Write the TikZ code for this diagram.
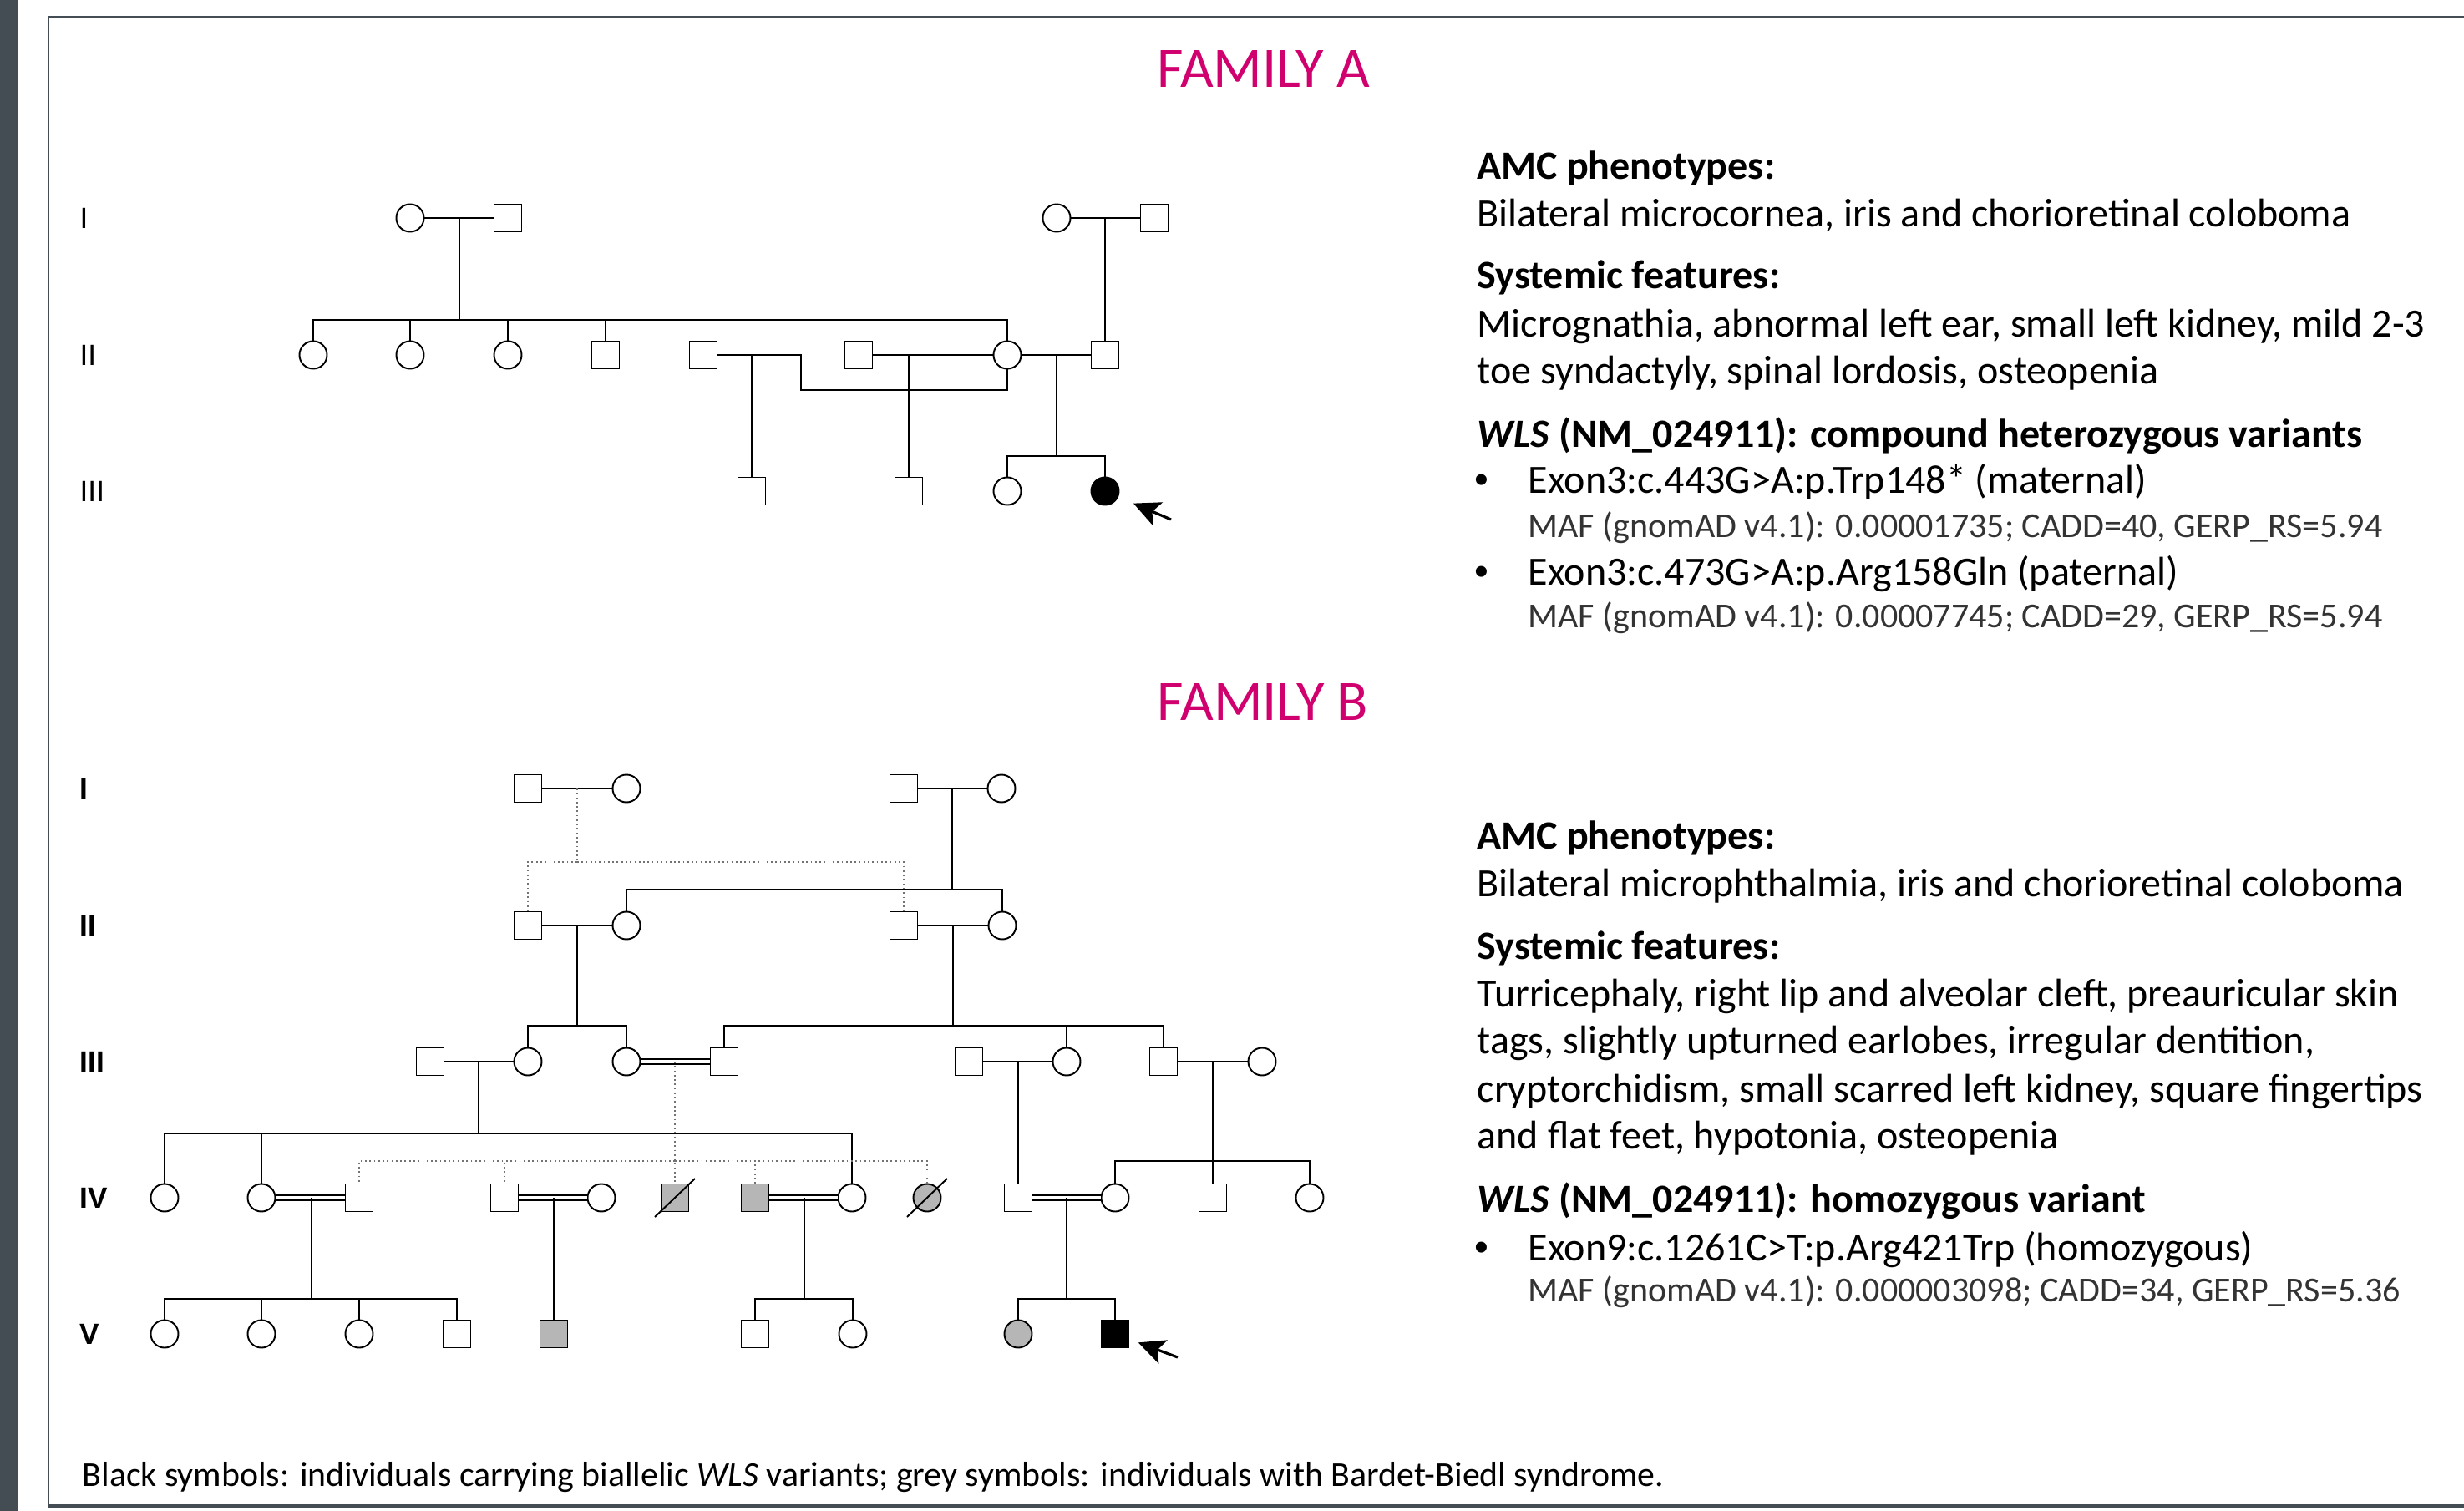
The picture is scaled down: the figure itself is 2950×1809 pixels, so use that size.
\documentclass[tikz,border=0pt]{standalone}
\usepackage{fontspec}
\setmainfont{Carlito}
\newfontfamily\genfont{Liberation Sans}
\usetikzlibrary{arrows.meta}
\definecolor{famtitlecol}{RGB}{208,0,111}
\definecolor{bbsgrey}{RGB}{182,182,182}
\definecolor{framegrey}{RGB}{68,76,84}
\definecolor{dotgrey}{RGB}{115,115,115}
\tikzset{
    %Define standard arrow tip
    >={Stealth[length=9pt,width=8.5pt,inset=2pt]},
    %Define styles for the individuals
    male/.style={
           rectangle,
           draw=black, line width=0.55pt,
           minimum size=0.33cm,
           inner sep=0pt},
    female/.style={
           circle,
           draw=black, line width=0.55pt,
           minimum size=0.33cm,
           inner sep=0pt},
    bbs/.style={fill=bbsgrey},
    wls/.style={fill=black},
    % Define line styles
    rel/.style={line width=0.55pt},
    consang/.style={double, double distance=1.3pt, line width=0.45pt},
    unsure/.style={dotgrey, densely dotted, line width=0.5pt},
    proband/.style={-{Stealth[length=9pt,width=8.5pt,inset=2pt]}, line width=0.9pt},
    % Define text styles
    gen/.style={anchor=west, inner sep=0pt, font=\genfont\fontsize{10}{12}\selectfont},
    genb/.style={anchor=west, inner sep=0pt, font=\genfont\bfseries\fontsize{10}{12}\selectfont},
    famtitle/.style={anchor=base, inner sep=0pt, text=famtitlecol, font=\fontsize{19.5}{23}\selectfont},
    txt/.style={anchor=base west, inner sep=0pt, font=\fontsize{13.66}{16}\selectfont},
    dot/.style={anchor=base west, inner sep=0pt, font=\genfont\fontsize{13.66}{16}\selectfont},
    maf/.style={anchor=base west, inner sep=0pt, text=black!80, font=\fontsize{11.95}{14}\selectfont},
    legend/.style={anchor=base west, inner sep=0pt, font=\fontsize{11.9}{14}\selectfont}
}

\begin{document}
\begin{tikzpicture}[x=0.01cm, y=-0.01cm]
\useasboundingbox (0,0) rectangle (2950,1809);
% page frame
\fill[framegrey] (0,0) rectangle (21,1809);
\draw[framegrey, line width=0.85pt] (2950,20) -- (58,20) -- (58,1803);
\draw[framegrey, line width=1.1pt] (58,1803) -- (2950,1803);

% ---------------- Family A ----------------
\node[famtitle] (titleA) at (1513,104) {FAMILY A};
\node[gen] (gA1) at (95,261) {I};
\node[gen] (gA2) at (95,425) {II};
\node[gen] (gA3) at (95,588) {III};

\node[female] (aI1) at (491,261) {};
\node[male]   (aI2) at (608,261) {};
\node[female] (aI3) at (1265,261) {};
\node[male]   (aI4) at (1382,261) {};

\node[female] (aII1) at (375,425) {};
\node[female] (aII2) at (491,425) {};
\node[female] (aII3) at (608,425) {};
\node[male]   (aII4) at (725,425) {};
\node[male]   (aII5) at (842,425) {};
\node[male]   (aII6) at (1028,425) {};
\node[female] (aII7) at (1206,425) {};
\node[male]   (aII8) at (1323,425) {};

\node[male]        (aIII1) at (900,588) {};
\node[male]        (aIII2) at (1088,588) {};
\node[female]      (aIII3) at (1206,588) {};
\node[female, wls] (aIII4) at (1323,588) {};

\coordinate (dA1) at (550,261);
\coordinate (sA1) at (550,383);
\coordinate (dA2) at (1323,261);
\coordinate (mA1) at (959,425);
\coordinate (kA1) at (959,467);
\coordinate (dA3) at (900,425);
\coordinate (dA4) at (1088,425);
\coordinate (dA5) at (1265,425);
\coordinate (sA5) at (1265,546);
\coordinate (pA) at (1402,622);

\draw[rel] (aI1) -- (aI2);
\draw[rel] (dA1) -- (sA1);
\foreach \c in {aII1,aII2,aII3,aII4,aII7}
    \draw[rel] (sA1) -| (\c);
\draw[rel] (aI3) -- (aI4);
\draw[rel] (dA2) -- (aII8);
\draw[rel] (aII5) -- (mA1) -- (kA1) -| (aII7);
\draw[rel] (dA3) -- (aIII1);
\draw[rel] (aII6) -- (aII7);
\draw[line width=0.35pt] (dA4) -- (aIII2);
\draw[rel] (aII7) -- (aII8);
\draw[rel] (dA5) -- (sA5);
\draw[rel] (sA5) -| (aIII3);
\draw[rel] (sA5) -| (aIII4);
\draw[proband, shorten >=0.195cm] (pA) -- (aIII4);

\node[txt] (tA1) at (1768,214) {\textbf{AMC phenotypes:}};
\node[txt] (tA2) at (1768,271) {Bilateral microcornea, iris and chorioretinal coloboma};
\node[txt] (tA3) at (1768,345) {\textbf{Systemic features:}};
\node[txt] (tA4) at (1768,403) {Micrognathia, abnormal left ear, small left kidney, mild 2-3};
\node[txt] (tA5) at (1768,459) {toe syndactyly, spinal lordosis, osteopenia};
\node[txt] (tA6) at (1768,535) {\textbf{\textit{WLS} (NM\_024911): compound heterozygous variants}};
\node[dot] (bA1) at (1765,590) {•};
\node[txt] (tA7) at (1829,590) {Exon3:c.443G>A:p.Trp148* (maternal)};
\node[maf] (tA8) at (1829,643) {MAF (gnomAD v4.1): 0.00001735; CADD=40, GERP\_RS=5.94};
\node[dot] (bA2) at (1765,700) {•};
\node[txt] (tA9) at (1829,700) {Exon3:c.473G>A:p.Arg158Gln (paternal)};
\node[maf] (tA10) at (1829,751) {MAF (gnomAD v4.1): 0.00007745; CADD=29, GERP\_RS=5.94};

% ---------------- Family B ----------------
\node[famtitle] (titleB) at (1512,862) {FAMILY B};
\node[genb] (gB1) at (95,944) {I};
\node[genb] (gB2) at (95,1108) {II};
\node[genb] (gB3) at (95,1271) {III};
\node[genb] (gB4) at (95,1434) {IV};
\node[genb] (gB5) at (95,1597) {V};

\node[male]   (bI1) at (632,944) {};
\node[female] (bI2) at (750,944) {};
\node[male]   (bI3) at (1082,944) {};
\node[female] (bI4) at (1199,944) {};

\node[male]   (bII1) at (632,1108) {};
\node[female] (bII2) at (750,1108) {};
\node[male]   (bII3) at (1082,1108) {};
\node[female] (bII4) at (1200,1108) {};

\node[male]   (bIII1) at (515,1271) {};
\node[female] (bIII2) at (632,1271) {};
\node[female] (bIII3) at (750,1271) {};
\node[male]   (bIII4) at (867,1271) {};
\node[male]   (bIII5) at (1160,1271) {};
\node[female] (bIII6) at (1277,1271) {};
\node[male]   (bIII7) at (1393,1271) {};
\node[female] (bIII8) at (1511,1271) {};

\node[female]    (bIV1) at (197,1434) {};
\node[female]    (bIV2) at (313,1434) {};
\node[male]      (bIV3) at (430,1434) {};
\node[male]      (bIV4) at (604,1434) {};
\node[female]    (bIV5) at (720,1434) {};
\node[male, bbs] (bIV6) at (808,1434) {};
\node[male, bbs] (bIV7) at (904,1434) {};
\node[female]    (bIV8) at (1020,1434) {};
\node[female, bbs] (bIV9) at (1110,1434) {};
\node[male]      (bIV10) at (1219,1434) {};
\node[female]    (bIV11) at (1335,1434) {};
\node[male]      (bIV12) at (1452,1434) {};
\node[female]    (bIV13) at (1568,1434) {};

\node[female]      (bV1) at (197,1597) {};
\node[female]      (bV2) at (313,1597) {};
\node[female]      (bV3) at (430,1597) {};
\node[male]        (bV4) at (547,1597) {};
\node[male, bbs]   (bV5) at (663,1597) {};
\node[male]        (bV6) at (904,1597) {};
\node[female]      (bV7) at (1021,1597) {};
\node[female, bbs] (bV8) at (1219,1597) {};
\node[male, wls]   (bV9) at (1335,1597) {};

% deceased
\draw[rel] (bIV6.center) ++(-24,23) -- ++(48,-46);
\draw[rel] (bIV9.center) ++(-24,23) -- ++(48,-46);

\coordinate (dB1) at (691,944);
\coordinate (sB1) at (691,1032);
\coordinate (dB2) at (1140,944);
\coordinate (sB2) at (1140,1065);
\coordinate (dB3) at (691,1108);
\coordinate (sB3) at (691,1228);
\coordinate (dB4) at (1141,1108);
\coordinate (sB4) at (1141,1228);
\coordinate (dB5) at (573,1271);
\coordinate (sB5) at (573,1357);
\coordinate (dB6) at (808,1271);
\coordinate (sB6) at (808,1390);
\coordinate (dB7) at (1219,1271);
\coordinate (dB8) at (1452,1271);
\coordinate (sB8) at (1452,1390);
\coordinate (dB9) at (373,1434);
\coordinate (sB9) at (373,1555);
\coordinate (dB10) at (663,1434);
\coordinate (dB11) at (963,1434);
\coordinate (sB11) at (963,1555);
\coordinate (dB12) at (1277,1434);
\coordinate (sB12) at (1277,1555);
\coordinate (pB) at (1410,1625);

% generation I to II
\draw[rel] (bI1) -- (bI2);
\draw[unsure] (dB1) -- (sB1);
\draw[unsure] (sB1) -| (bII1);
\draw[unsure] (sB1) -| (bII3);
\draw[rel] (bI3) -- (bI4);
\draw[rel] (dB2) -- (sB2);
\draw[rel] (sB2) -| (bII2);
\draw[rel] (sB2) -| (bII4);
% generation II to III
\draw[rel] (bII1) -- (bII2);
\draw[rel] (dB3) -- (sB3);
\draw[rel] (sB3) -| (bIII2);
\draw[rel] (sB3) -| (bIII3);
\draw[rel] (bII3) -- (bII4);
\draw[rel] (dB4) -- (sB4);
\foreach \c in {bIII4,bIII6,bIII7}
    \draw[rel] (sB4) -| (\c);
% generation III to IV
\draw[rel] (bIII1) -- (bIII2);
\draw[rel] (dB5) -- (sB5);
\foreach \c in {bIV1,bIV2,bIV8}
    \draw[rel] (sB5) -| (\c);
\draw[consang] (bIII3) -- (bIII4);
\draw[unsure] (dB6) -- (bIV6);
\foreach \c in {bIV3,bIV4,bIV7,bIV9}
    \draw[unsure] (sB6) -| (\c);
\draw[rel] (bIII5) -- (bIII6);
\draw[rel] (dB7) -- (bIV10);
\draw[rel] (bIII7) -- (bIII8);
\draw[rel] (dB8) -- (sB8);
\foreach \c in {bIV11,bIV12,bIV13}
    \draw[rel] (sB8) -| (\c);
% generation IV to V
\draw[consang] (bIV2) -- (bIV3);
\draw[rel] (dB9) -- (sB9);
\foreach \c in {bV1,bV2,bV3,bV4}
    \draw[rel] (sB9) -| (\c);
\draw[consang] (bIV4) -- (bIV5);
\draw[rel] (dB10) -- (bV5);
\draw[consang] (bIV7) -- (bIV8);
\draw[rel] (dB11) -- (sB11);
\draw[rel] (sB11) -| (bV6);
\draw[rel] (sB11) -| (bV7);
\draw[consang] (bIV10) -- (bIV11);
\draw[rel] (dB12) -- (sB12);
\draw[rel] (sB12) -| (bV8);
\draw[rel] (sB12) -| (bV9);
\draw[proband, shorten >=0.11cm] (pB) -- (bV9);

\node[txt] (tB1) at (1768,1016) {\textbf{AMC phenotypes:}};
\node[txt] (tB2) at (1768,1073) {Bilateral microphthalmia, iris and chorioretinal coloboma};
\node[txt] (tB3) at (1768,1148) {\textbf{Systemic features:}};
\node[txt] (tB4) at (1768,1205) {Turricephaly, right lip and alveolar cleft, preauricular skin};
\node[txt] (tB5) at (1768,1261) {tags, slightly upturned earlobes, irregular dentition,};
\node[txt] (tB6) at (1768,1319) {cryptorchidism, small scarred left kidney, square fingertips};
\node[txt] (tB7) at (1768,1375) {and flat feet, hypotonia, osteopenia};
\node[txt] (tB8) at (1768,1451) {\textbf{\textit{WLS} (NM\_024911): homozygous variant}};
\node[dot] (bB1) at (1765,1509) {•};
\node[txt] (tB9) at (1829,1509) {Exon9:c.1261C>T:p.Arg421Trp (homozygous)};
\node[maf] (tB10) at (1829,1558) {MAF (gnomAD v4.1): 0.000003098; CADD=34, GERP\_RS=5.36};

% legend
\node[legend] (leg) at (98,1779) {Black symbols: individuals carrying biallelic \textit{WLS} variants; grey symbols: individuals with Bardet-Biedl syndrome.};
\end{tikzpicture}
\end{document}
